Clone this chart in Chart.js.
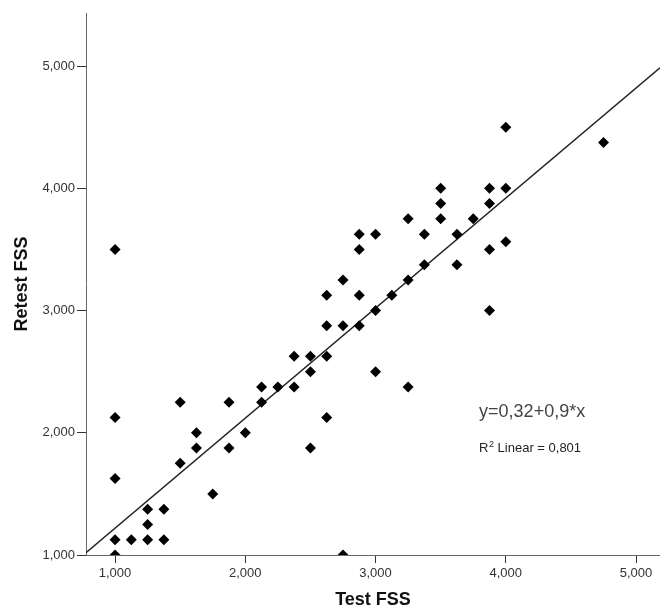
<!DOCTYPE html>
<html lang="en">
  <head>
    <meta charset="UTF-8" />
    <title>Test / Retest FSS</title>
    <script src="https://cdn.jsdelivr.net/npm/chart.js"></script>
    <style>
      body { margin: 0; background: #fff; }
      #wrap { width: 660px; height: 613px; }
    </style>
  </head>
  <body>
    <div id="wrap"><canvas id="scatter"></canvas></div>

    <script>
      // Test FSS (x) and Retest FSS (y), one entry per subject
      const testFss = [
        1, 1, 1, 1, 1,
        1.125,
        1.25, 1.25, 1.25,
        1.375, 1.375,
        1.5, 1.5,
        1.625, 1.625,
        1.75,
        1.875, 1.875,
        2,
        2.125, 2.125,
        2.25,
        2.375, 2.375,
        2.5, 2.5, 2.5,
        2.625, 2.625, 2.625, 2.625,
        2.75, 2.75, 2.75,
        2.875, 2.875, 2.875, 2.875,
        3, 3, 3,
        3.125,
        3.25, 3.25, 3.25,
        3.375, 3.375,
        3.5, 3.5, 3.5,
        3.625, 3.625,
        3.75,
        3.875, 3.875, 3.875, 3.875,
        4, 4, 4,
        4.75
      ];
      const retestFss = [
        1, 1.125, 1.625, 2.125, 3.5,
        1.125,
        1.125, 1.25, 1.375,
        1.125, 1.375,
        1.75, 2.25,
        1.875, 2,
        1.5,
        1.875, 2.25,
        2,
        2.25, 2.375,
        2.375,
        2.375, 2.625,
        1.875, 2.5, 2.625,
        2.125, 2.625, 2.875, 3.125,
        1, 2.875, 3.25,
        2.875, 3.125, 3.5, 3.625,
        2.5, 3, 3.625,
        3.125,
        2.375, 3.25, 3.75,
        3.375, 3.625,
        3.75, 3.875, 4,
        3.375, 3.625,
        3.75,
        3, 3.5, 3.875, 4,
        3.5625, 4, 4.5,
        4.375
      ];

      // linear fit  y = 0,32 + 0,9 * x
      const fitIntercept = 0.32;
      const fitSlope = 0.9;
      const fitText = "y=0,32+0,9*x";
      const r2Text = "0,801";

      const xRange = [0.777, 5.184];
      const yRange = [1, 5.434];

      const points = testFss.map((x, i) => ({ x: x, y: retestFss[i] }));
      const fitLine = xRange.map((x) => ({ x: x, y: fitIntercept + fitSlope * x }));

      const fontFamily = "'Liberation Sans', Arial, sans-serif";
      const fmt = (v) => v.toFixed(3).replace(".", ",");

      // equation + R² text inside the plot
      const fitLabel = {
        id: "fitLabel",
        afterDatasetsDraw(chart) {
          const ctx = chart.ctx;
          const xs = chart.scales.x;
          const ys = chart.scales.y;
          const left = xs.getPixelForValue(3.795);
          ctx.save();
          ctx.fillStyle = "#444";
          ctx.textAlign = "left";
          ctx.textBaseline = "alphabetic";
          ctx.font = "18px " + fontFamily;
          ctx.fillText(fitText, left, ys.getPixelForValue(2.131));

          const base = ys.getPixelForValue(1.845);
          ctx.fillStyle = "#222";
          ctx.font = "13px " + fontFamily;
          ctx.fillText("R", left, base);
          const rw = ctx.measureText("R").width;
          ctx.font = "9px " + fontFamily;
          ctx.fillText("2", left + rw + 0.5, base - 5);
          const sw = ctx.measureText("2").width;
          ctx.font = "13px " + fontFamily;
          ctx.fillText(" Linear = " + r2Text, left + rw + sw + 0.5, base);
          ctx.restore();
        },
      };

      new Chart(document.getElementById("scatter"), {
        type: "scatter",
        data: {
          datasets: [
            {
              label: "Retest FSS",
              data: points,
              pointStyle: "rectRot",
              pointRadius: 5.5,
              pointHoverRadius: 5.5,
              backgroundColor: "#000",
              borderColor: "#000",
              borderWidth: 0,
              clip: 0,
              order: 1,
            },
            {
              label: "Linear fit",
              data: fitLine,
              showLine: true,
              pointRadius: 0,
              borderColor: "#222",
              borderWidth: 1.5,
              fill: false,
              clip: 0,
              order: 2,
            },
          ],
        },
        options: {
          responsive: true,
          maintainAspectRatio: false,
          animation: false,
          layout: { autoPadding: false, padding: { top: 13, right: 0, left: 0, bottom: 0 } },
          plugins: {
            legend: { display: false },
            tooltip: { enabled: false },
          },
          scales: {
            x: {
              type: "linear",
              min: xRange[0],
              max: xRange[1],
              afterFit: (s) => { s.height = 58; },
              border: { display: true, color: "#666", width: 1 },
              grid: { drawOnChartArea: false, drawTicks: true, tickLength: 8, color: "#333" },
              ticks: {
                stepSize: 1,
                includeBounds: false,
                padding: 3,
                color: "#333",
                font: { family: fontFamily, size: 13 },
                callback: (v) => fmt(v),
              },
              title: {
                display: true,
                text: "Test FSS",
                color: "#111",
                font: { family: fontFamily, size: 18, weight: "bold" },
                padding: { top: 0, bottom: 2 },
              },
            },
            y: {
              type: "linear",
              min: yRange[0],
              max: yRange[1],
              afterFit: (s) => { s.width = 86; },
              border: { display: true, color: "#666", width: 1 },
              grid: { drawOnChartArea: false, drawTicks: true, tickLength: 9, color: "#333" },
              ticks: {
                stepSize: 1,
                includeBounds: false,
                padding: 2,
                color: "#333",
                font: { family: fontFamily, size: 13 },
                callback: (v) => fmt(v),
              },
              title: {
                display: true,
                text: "Retest FSS",
                color: "#111",
                font: { family: fontFamily, size: 18, weight: "bold" },
                padding: { top: 11, bottom: 0 },
              },
            },
          },
        },
        plugins: [fitLabel],
      });
    </script>
  </body>
</html>
